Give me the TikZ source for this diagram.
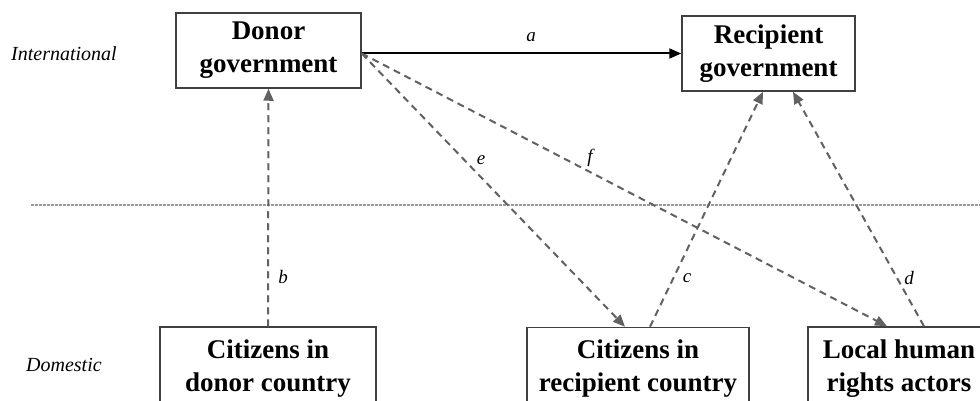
\documentclass[tikz,border=0pt]{standalone}
\usepackage{fontspec}
\setmainfont{Liberation Serif}
\usetikzlibrary{arrows.meta}
\begin{document}
\begin{tikzpicture}[x=1pt,y=-1pt,
  box/.style={draw=black!75, line width=1.5pt, rectangle, align=center,
    font=\fontsize{27}{33}\selectfont\bfseries, inner sep=0pt},
  levellabel/.style={font=\fontsize{20}{24}\selectfont\itshape, anchor=west, inner sep=0pt},
  arrlabel/.style={font=\fontsize{19}{22}\selectfont\itshape, inner sep=0pt},
  solidarrow/.style={draw=black, line width=2pt, -{Triangle[length=12pt,width=10pt]}},
  dasharrow/.style={draw=black!62, line width=2pt, dash pattern=on 7pt off 5pt,
    -{Triangle[length=12pt,width=10pt]}},
  separator/.style={draw=black!40, line width=1.2pt, dash pattern=on 3pt off 1pt}
]
\useasboundingbox (0,0) rectangle (980,401);
\clip (0,0) rectangle (980,401);

% level labels
\node[levellabel] (intl) at (11,54) {International};
\node[levellabel] (dom) at (26,365) {Domestic};

% separator
\coordinate (sepL) at (31,205);
\coordinate (sepR) at (980,205);
\draw[separator] (sepL) -- (sepR);

% boxes
\node[box, minimum width=185pt, minimum height=75pt] (donor) at (268.5,50.5) {Donor\\government};
\node[box, minimum width=173pt, minimum height=75pt] (recip) at (768.5,53.5) {Recipient\\government};
\node[box, minimum width=216pt, minimum height=83pt] (cdon) at (268,368.5) {Citizens in\\donor country};
\node[box, minimum width=222pt, minimum height=83pt] (crec) at (638,369) {Citizens in\\recipient country};
\node[box, minimum width=182pt, minimum height=83pt] (local) at (899,368.5) {Local human\\rights actors};

% connectors
\coordinate (dstart) at (donor.east |- recip.west);
\draw[solidarrow] (dstart) -- (recip.west);
\draw[dasharrow] (cdon.north) -- (donor.south);
\draw[dasharrow] (dstart) -- ([xshift=-13pt]crec.north);
\draw[dasharrow] (dstart) -- ([xshift=-12pt]local.north);
\draw[dasharrow] ([xshift=12pt]crec.north) -- ([xshift=-5.5pt]recip.south);
\draw[dasharrow] ([xshift=25pt]local.north) -- ([xshift=24.5pt]recip.south);

% connector labels
\node[arrlabel] (la) at (531,37) {a};
\node[arrlabel] (lb) at (283,277) {b};
\node[arrlabel] (lc) at (687,278) {c};
\node[arrlabel] (ld) at (909,278) {d};
\node[arrlabel] (le) at (481,160) {e};
\node[arrlabel] (lf) at (590,158) {f};
\end{tikzpicture}
\end{document}
